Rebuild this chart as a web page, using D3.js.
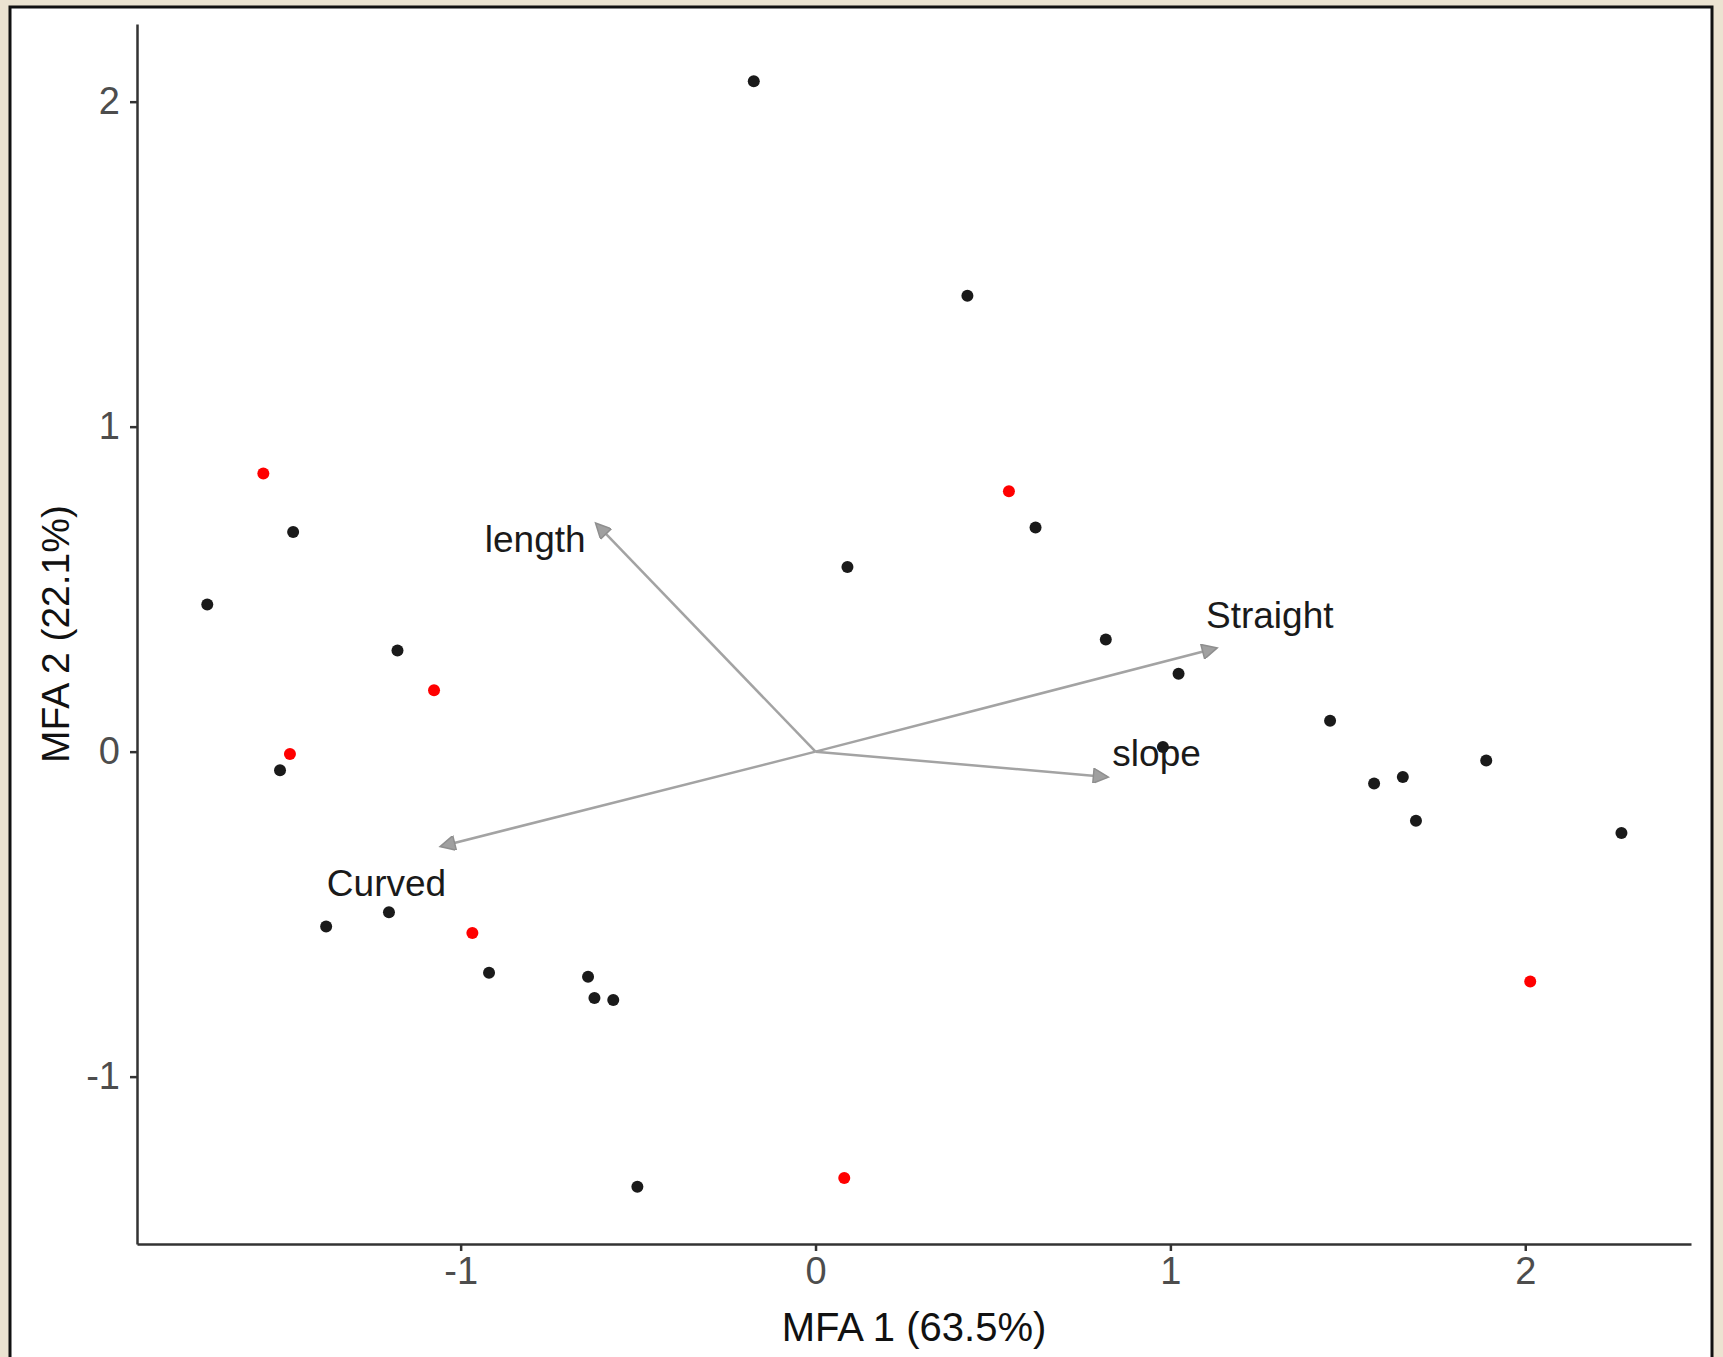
<!DOCTYPE html>
<html>
<head>
<meta charset="utf-8">
<script src="https://cdn.jsdelivr.net/npm/d3@7"></script>
<style>
  html, body { margin: 0; padding: 0; background: #ebe3d1; }
  svg { display: block; font-family: "Liberation Sans", Arial, sans-serif; }
</style>
</head>
<body>
<svg id="chart" width="1723" height="1357"></svg>
<script>
// individuals on the first two MFA dimensions
const blackX = [-0.174, 0.428, -1.472, -1.714, 0.090, 0.620, -1.178, 0.818, 1.023, 1.450, 0.979, -1.509,
  1.574, 1.655, 1.890, 1.692, 2.271, -1.379, -1.202, -0.920, -0.641, -0.623, -0.570, -0.502];
const blackY = [2.063, 1.403, 0.676, 0.453, 0.568, 0.690, 0.311, 0.345, 0.240, 0.095, 0.014, -0.057,
  -0.098, -0.078, -0.027, -0.213, -0.250, -0.538, -0.494, -0.680, -0.693, -0.758, -0.764, -1.339];
const redX = [-1.556, 0.545, -1.075, -1.481, -0.967, 2.014, 0.081];
const redY = [0.856, 0.801, 0.189, -0.007, -0.558, -0.707, -1.312];

// variable arrows
const varNames = ["length", "Straight", "slope", "Curved"];
const varX = [-0.617, 1.128, 0.821, -1.054];
const varY = [0.700, 0.318, -0.078, -0.291];
const labelX = [-0.790, 1.280, 0.961, -1.209];
const labelY = [0.615, 0.379, -0.044, -0.443];

const xTicks = [-1, 0, 1, 2];
const yTicks = [-1, 0, 1, 2];
const xTitle = "MFA 1 (63.5%)";
const yTitle = "MFA 2 (22.1%)";

const svg = d3.select("#chart");

// white panel with dark frame
svg.append("rect")
  .attr("x", 10).attr("y", 7)
  .attr("width", 1702).attr("height", 1370)
  .attr("fill", "#ffffff")
  .attr("stroke", "#111")
  .attr("stroke-width", 3);

const plot = { left: 137, right: 1691, top: 24, bottom: 1244 };
const x = d3.scaleLinear().domain([-1.912, 2.467]).range([plot.left, plot.right]);
const y = d3.scaleLinear().domain([-1.515, 2.239]).range([plot.bottom, plot.top]);

const fmt = (d) => String(d);

const xAxis = svg.append("g")
  .attr("transform", `translate(0,${plot.bottom})`)
  .call(d3.axisBottom(x).tickValues(xTicks).tickFormat(fmt).tickSizeOuter(0).tickSizeInner(7).tickPadding(6));
const yAxis = svg.append("g")
  .attr("transform", `translate(${plot.left},0)`)
  .call(d3.axisLeft(y).tickValues(yTicks).tickFormat(fmt).tickSizeOuter(0).tickSizeInner(7).tickPadding(10));

[xAxis, yAxis].forEach((g) => {
  g.select(".domain").attr("stroke", "#333").attr("stroke-width", 2.5);
  g.selectAll(".tick line").attr("stroke", "#333").attr("stroke-width", 2.5);
  g.selectAll(".tick text")
    .attr("fill", "#4d4d4d")
    .attr("font-size", 38)
    .attr("font-family", "Liberation Sans, Arial, sans-serif");
});

svg.append("text")
  .attr("x", (plot.left + plot.right) / 2)
  .attr("y", 1341)
  .attr("text-anchor", "middle")
  .attr("font-size", 40)
  .attr("fill", "#111")
  .text(xTitle);

svg.append("text")
  .attr("transform", `translate(69,${(plot.top + plot.bottom) / 2}) rotate(-90)`)
  .attr("text-anchor", "middle")
  .attr("font-size", 39)
  .attr("fill", "#111")
  .text(yTitle);

// arrowhead
svg.append("defs").append("marker")
  .attr("id", "head")
  .attr("viewBox", "0 0 10 10")
  .attr("refX", 9).attr("refY", 5)
  .attr("markerWidth", 8).attr("markerHeight", 6)
  .attr("markerUnits", "strokeWidth")
  .attr("orient", "auto")
  .append("path")
  .attr("d", "M0,0L10,5L0,10Z")
  .attr("fill", "#a0a0a0")
  .attr("stroke", "#8f8f8f")
  .attr("stroke-width", 1);

const vars = varNames.map((name, i) => ({ name, vx: varX[i], vy: varY[i], lx: labelX[i], ly: labelY[i] }));

svg.append("g").selectAll("line")
  .data(vars)
  .join("line")
  .attr("x1", x(0)).attr("y1", y(0))
  .attr("x2", (d) => x(d.vx)).attr("y2", (d) => y(d.vy))
  .attr("stroke", "#a3a3a3")
  .attr("stroke-width", 2.5)
  .attr("marker-end", "url(#head)");

const pts = blackX.map((v, i) => ({ x: v, y: blackY[i], c: "#1a1a1a" }))
  .concat(redX.map((v, i) => ({ x: v, y: redY[i], c: "#ff0000" })));

svg.append("g").selectAll("circle")
  .data(pts)
  .join("circle")
  .attr("cx", (d) => x(d.x))
  .attr("cy", (d) => y(d.y))
  .attr("r", 6)
  .attr("fill", (d) => d.c);

svg.append("g").selectAll("text")
  .data(vars)
  .join("text")
  .attr("x", (d) => x(d.lx))
  .attr("y", (d) => y(d.ly))
  .attr("text-anchor", "middle")
  .attr("font-size", 37)
  .attr("fill", "#1a1a1a")
  .text((d) => d.name);
</script>
</body>
</html>
